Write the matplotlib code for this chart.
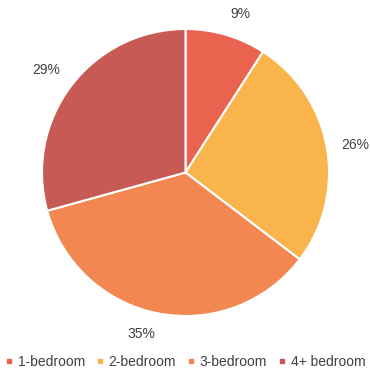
import numpy as np
import matplotlib
matplotlib.use("Agg")
import matplotlib.pyplot as plt
from matplotlib.lines import Line2D

categories = ["1-bedroom", "2-bedroom", "3-bedroom", "4+ bedroom"]
values = [9, 26, 35, 29]
labels = ["9%", "26%", "35%", "29%"]
colors = ["#E9634F", "#F9B44C", "#F38751", "#C85A55"]

plt.rcParams['font.family'] = ['Liberation Sans', 'DejaVu Sans']

W, H = 370, 377
fig = plt.figure(figsize=(W / 100, H / 100), dpi=100)
cx, cy, r = 185.5, 172.5, 143.5
ax = fig.add_axes([(cx - r) / W, (H - cy - r) / H, 2 * r / W, 2 * r / H])

wedges, _ = ax.pie(values, colors=colors, startangle=90, counterclock=False,
                   wedgeprops=dict(edgecolor="white", linewidth=1.5))
ax.set_xlim(-1, 1)
ax.set_ylim(-1, 1)
ax.set_aspect("auto")
ax.axis("off")

for w, lab in zip(wedges, labels):
    ang = np.deg2rad((w.theta1 + w.theta2) / 2)
    c, s = np.cos(ang), np.sin(ang)
    d = 1.1
    ha = "left" if c > 0.05 else ("right" if c < -0.05 else "center")
    if abs(s) < 0.5:
        va = "center"
    else:
        va = "bottom" if s > 0 else "top"
    ax.text(d * c, d * s, lab, ha=ha, va=va, fontsize=10, color="#404040",
            clip_on=False)

handles = [Line2D([0], [0], marker="s", linestyle="none", markersize=3.5,
                  markerfacecolor=col, markeredgecolor=col) for col in colors]
fig.legend(handles, categories, loc="center left", ncol=4,
           bbox_to_anchor=(6 / W, 1 - 362 / H), frameon=False, fontsize=10,
           handlelength=0.5, handletextpad=0.35, columnspacing=0.85,
           labelcolor="#404040", borderaxespad=0, borderpad=0)

fig.savefig("out.png", dpi=100)
